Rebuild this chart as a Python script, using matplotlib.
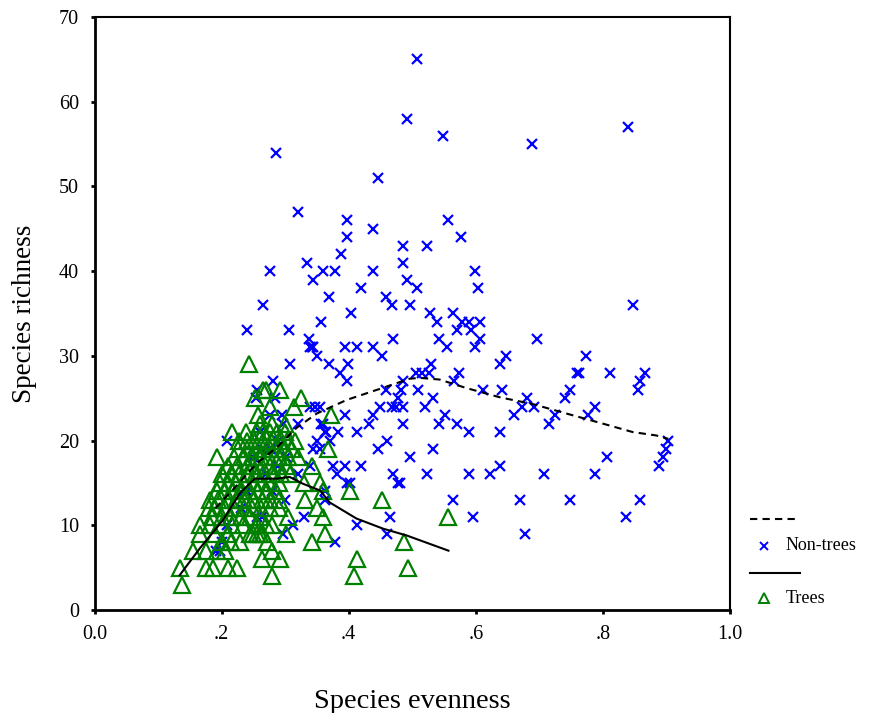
import matplotlib
matplotlib.use("Agg")
import matplotlib.pyplot as plt

plt.rcParams['font.family'] = ['Liberation Serif', 'DejaVu Serif']

# non-trees (blue x): evenness, richness
nontree_even = [0.508, 0.491, 0.548, 0.688, 0.839, 0.285, 0.446, 0.320, 0.397, 0.557,
                0.439, 0.397, 0.576, 0.485, 0.524, 0.388, 0.334, 0.485, 0.276, 0.360,
                0.378, 0.439, 0.598, 0.344, 0.491, 0.419, 0.508, 0.603, 0.369, 0.458,
                0.265, 0.468, 0.496, 0.848, 0.403, 0.528, 0.564, 0.357, 0.539, 0.578,
                0.589, 0.606, 0.240, 0.306, 0.570, 0.592, 0.337, 0.470, 0.542, 0.606,
                0.696, 0.342, 0.344, 0.339, 0.394, 0.413, 0.438, 0.555, 0.598, 0.350,
                0.453, 0.647, 0.774, 0.307, 0.369, 0.399, 0.529, 0.638, 0.386, 0.506,
                0.515, 0.526, 0.573, 0.759, 0.762, 0.811, 0.866, 0.281, 0.397, 0.485,
                0.565, 0.859, 0.458, 0.483, 0.509, 0.611, 0.641, 0.749, 0.856, 0.254,
                0.284, 0.477, 0.532, 0.681, 0.740, 0.256, 0.339, 0.347, 0.355, 0.450,
                0.468, 0.474, 0.485, 0.520, 0.672, 0.691, 0.787, 0.276, 0.295, 0.394,
                0.438, 0.551, 0.660, 0.724, 0.776, 0.297, 0.320, 0.357, 0.432, 0.485,
                0.542, 0.570, 0.715, 0.360, 0.363, 0.365, 0.383, 0.413, 0.590, 0.638,
                0.261, 0.208, 0.289, 0.350, 0.370, 0.461, 0.903, 0.263, 0.276, 0.279,
                0.344, 0.355, 0.446, 0.532, 0.899, 0.302, 0.496, 0.806, 0.895, 0.289,
                0.339, 0.375, 0.394, 0.419, 0.638, 0.888, 0.320, 0.381, 0.470, 0.523,
                0.589, 0.622, 0.708, 0.787, 0.397, 0.402, 0.477, 0.480, 0.237, 0.240,
                0.362, 0.362, 0.564, 0.669, 0.749, 0.858, 0.255, 0.263, 0.329, 0.465,
                0.595, 0.836, 0.312, 0.413, 0.208, 0.297, 0.460, 0.678, 0.200, 0.378,
                0.191, 0.198, 0.270, 0.250, 0.300, 0.230, 0.280]
nontree_rich = [65, 58, 56, 55, 57, 54, 51, 47, 46, 46,
                45, 44, 44, 43, 43, 42, 41, 41, 40, 40,
                40, 40, 40, 39, 39, 38, 38, 38, 37, 37,
                36, 36, 36, 36, 35, 35, 35, 34, 34, 34,
                34, 34, 33, 33, 33, 33, 32, 32, 32, 32,
                32, 31, 31, 31, 31, 31, 31, 31, 31, 30,
                30, 30, 30, 29, 29, 29, 29, 29, 28, 28,
                28, 28, 28, 28, 28, 28, 28, 27, 27, 27,
                27, 27, 26, 26, 26, 26, 26, 26, 26, 25,
                25, 25, 25, 25, 25, 26, 24, 24, 24, 24,
                24, 24, 24, 24, 24, 24, 24, 23, 23, 23,
                23, 23, 23, 23, 23, 22, 22, 22, 22, 22,
                22, 22, 22, 22, 21, 21, 21, 21, 21, 21,
                21, 20, 20, 20, 20, 20, 20, 19, 19, 19,
                19, 19, 19, 19, 19, 18, 18, 18, 18, 17,
                17, 17, 17, 17, 17, 17, 16, 16, 16, 16,
                16, 16, 16, 16, 15, 15, 15, 15, 14, 14,
                14, 13, 13, 13, 13, 13, 11, 11, 11, 11,
                11, 11, 10, 10, 10, 9, 9, 9, 8, 8,
                7, 7, 16, 18, 13, 12, 14]

# trees (green triangles), listed row by row of richness
tree_even = [0.243,
             0.265, 0.270, 0.292,
             0.325, 0.253,
             0.276, 0.314,
             0.257, 0.372,
             0.260, 0.280, 0.300,
             0.217, 0.239, 0.255, 0.265, 0.276, 0.287, 0.300,
             0.227, 0.240, 0.252, 0.265, 0.278, 0.290, 0.303, 0.315,
             0.226, 0.240, 0.253, 0.265, 0.276, 0.289, 0.300, 0.310, 0.367,
             0.192, 0.220, 0.235, 0.250, 0.262, 0.275, 0.290, 0.305, 0.320,
             0.210, 0.225, 0.240, 0.250, 0.263, 0.276, 0.290, 0.303, 0.342,
             0.200, 0.215, 0.228, 0.240, 0.252, 0.265, 0.280, 0.293, 0.307,
             0.197, 0.210, 0.223, 0.235, 0.250, 0.262, 0.275, 0.290, 0.329, 0.355,
             0.193, 0.205, 0.218, 0.232, 0.245, 0.258, 0.272, 0.285, 0.360, 0.402,
             0.182, 0.195, 0.208, 0.222, 0.235, 0.250, 0.263, 0.276, 0.290, 0.331, 0.452,
             0.180, 0.190, 0.205, 0.220, 0.235, 0.248, 0.262, 0.276, 0.290, 0.350,
             0.185, 0.200, 0.215, 0.230, 0.245, 0.260, 0.305, 0.360, 0.557,
             0.166, 0.182, 0.200, 0.217, 0.233, 0.255, 0.270, 0.280,
             0.166, 0.190, 0.210, 0.245, 0.250, 0.255, 0.260, 0.265, 0.302, 0.362,
             0.200, 0.215, 0.229, 0.272, 0.342, 0.487,
             0.155, 0.175, 0.193, 0.205, 0.279,
             0.263, 0.292, 0.413,
             0.134, 0.175, 0.186, 0.210, 0.224, 0.494,
             0.279, 0.408,
             0.138]
tree_rich = ([29] + [26] * 3 + [25] * 2 + [24] * 2 + [23] * 2 + [22] * 3 + [21] * 7
             + [20] * 8 + [19] * 9 + [18] * 9 + [17] * 9 + [16] * 9 + [15] * 10
             + [14] * 10 + [13] * 11 + [12] * 10 + [11] * 9 + [10] * 8 + [9] * 10
             + [8] * 6 + [7] * 5 + [6] * 3 + [5] * 6 + [4] * 2 + [3])

# fitted curves
fit_nontree_x = [0.190, 0.224, 0.255, 0.287, 0.318, 0.350, 0.397, 0.449, 0.496, 0.512,
                 0.543, 0.585, 0.638, 0.690, 0.742, 0.795, 0.847, 0.884, 0.903]
fit_nontree_y = [12.0, 14.7, 17.3, 19.2, 21.5, 23.2, 24.8, 26.1, 27.3, 27.4,
                 27.2, 26.2, 25.1, 24.3, 23.2, 22.1, 21.0, 20.6, 20.2]
fit_tree_x = [0.134, 0.166, 0.202, 0.229, 0.252, 0.286, 0.307, 0.328, 0.355, 0.370,
              0.412, 0.454, 0.491, 0.557]
fit_tree_y = [4.1, 7.3, 10.6, 13.8, 15.5, 15.5, 15.7, 14.9, 14.1, 12.7,
              10.8, 9.6, 8.8, 7.0]

xticks = [0.0, 0.2, 0.4, 0.6, 0.8, 1.0]
xtick_labels = ['0.0', '.2', '.4', '.6', '.8', '1.0']
yticks = [0, 10, 20, 30, 40, 50, 60, 70]

fig = plt.figure(figsize=(8.71, 7.13), dpi=100)
ax = fig.add_axes([0.1085, 0.1445, 0.7296, 0.8317])

blue = '#0000ff'
green = '#008000'
ax.plot(nontree_even, nontree_rich, linestyle='none', marker='x', color=blue,
        markersize=7, markeredgewidth=1.6)
ax.plot(tree_even, tree_rich, linestyle='none', marker='^', markerfacecolor='none',
        markeredgecolor=green, markersize=11, markeredgewidth=1.6)
ax.plot(fit_nontree_x, fit_nontree_y, color='black', lw=1.5, dashes=(3.5, 2.5))
ax.plot(fit_tree_x, fit_tree_y, color='black', lw=1.5)

ax.set_xlim(0, 1.0)
ax.set_ylim(0, 70)
ax.set_xticks(xticks)
ax.set_xticklabels(xtick_labels)
ax.set_yticks(yticks)
ax.tick_params(direction='out', length=3, width=2, labelsize=14.5, pad=8)
for side in ['left', 'bottom']:
    ax.spines[side].set_linewidth(2)
for side in ['top', 'right']:
    ax.spines[side].set_linewidth(1.5)

ax.set_xlabel('Species evenness', fontsize=20.5, labelpad=32)
ax.set_ylabel('Species richness', fontsize=19.5, labelpad=16)

# legend drawn beside the axes
tr = ax.transAxes
ax.plot([1.031, 1.110], [0.153, 0.153], transform=tr, clip_on=False,
        color='black', lw=1.5, dashes=(3.5, 2.5))
ax.plot([1.054], [0.108], transform=tr, clip_on=False, marker='x', color=blue,
        markersize=5.5, markeredgewidth=1.4)
ax.text(1.087, 0.108, 'Non-trees', transform=tr, fontsize=13, va='center', ha='left')
ax.plot([1.031, 1.110], [0.0624, 0.0624], transform=tr, clip_on=False,
        color='black', lw=1.5)
ax.plot([1.054], [0.021], transform=tr, clip_on=False, marker='^',
        markerfacecolor='none', markeredgecolor=green, markersize=7, markeredgewidth=1.4)
ax.text(1.087, 0.019, 'Trees', transform=tr, fontsize=13, va='center', ha='left')

fig.savefig('out.png', dpi=100)
